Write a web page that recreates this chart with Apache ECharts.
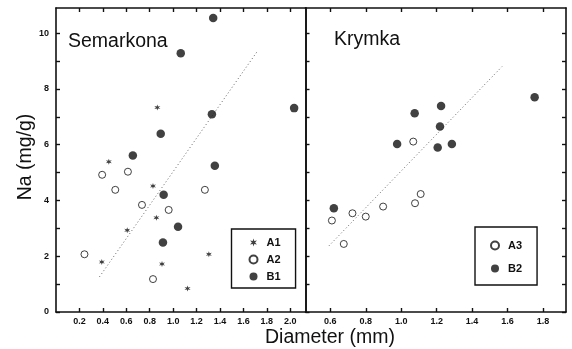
<!DOCTYPE html>
<html>
<head>
<meta charset="utf-8">
<script src="https://cdn.jsdelivr.net/npm/echarts@6/dist/echarts.min.js"></script>
<style>
  html, body { margin: 0; padding: 0; background: #fff; }
  #chart { width: 572px; height: 349px; }
</style>
</head>
<body>
<div id="chart"></div>
<script>
// Semarkona (left panel), [diameter mm, Na mg/g]
const semA1 = [[0.865, 7.33], [0.451, 5.39], [0.828, 4.52], [0.857, 3.38], [0.608, 2.93], [1.305, 2.07], [0.391, 1.79], [0.905, 1.72], [1.123, 0.84]]
const semA2 = [[0.394, 4.92], [0.614, 5.03], [0.506, 4.38], [1.271, 4.38], [0.734, 3.84], [0.962, 3.66], [0.243, 2.07], [0.828, 1.18]]
const semB1 = [[1.342, 10.54], [1.065, 9.28], [2.033, 7.31], [1.331, 7.09], [0.894, 6.39], [0.656, 5.61], [1.356, 5.24], [0.919, 4.2], [1.042, 3.06], [0.913, 2.49]]
const semFit = [[0.371, 1.26], [1.716, 9.33]]

// Krymka (right panel)
const kryA3 = [[1.068, 6.11], [1.11, 4.23], [1.078, 3.9], [0.898, 3.78], [0.8, 3.42], [0.725, 3.54], [0.609, 3.28], [0.676, 2.44]]
const kryB2 = [[1.753, 7.7], [1.225, 7.39], [1.076, 7.13], [1.219, 6.65], [0.977, 6.02], [1.206, 5.9], [1.286, 6.02], [0.62, 3.72]]
const kryFit = [[0.592, 2.37], [1.569, 8.8]]

// tick values
const semXTicks = [0.2, 0.4, 0.6, 0.8, 1.0, 1.2, 1.4, 1.6, 1.8, 2.0]
const kryXTicks = [0.6, 0.8, 1.0, 1.2, 1.4, 1.6, 1.8]
const yTicks = [0, 1, 2, 3, 4, 5, 6, 7, 8, 9, 10]
const yLabels = [0, 2, 4, 6, 8, 10]

const FONT = '"Liberation Sans", Arial, sans-serif'
const INK = '#111'
const STAR = 'path://M0,-10L2,-3.46L8.66,-5L4,0L8.66,5L2,3.46L0,10L-2,3.46L-8.66,5L-4,0L-8.66,-5L-2,-3.46Z'

const lineStyle = { color: INK, width: 1.6 }
const tickStyle = { color: INK, width: 1.4 }
const labelStyle = { color: INK, fontFamily: FONT, fontSize: 9, fontWeight: 'bold' }

function xAxis(gridIndex, position, min, max, ticks, labels) {
  return {
    type: 'value', gridIndex, position, min, max,
    axisLine: { show: true, onZero: false, lineStyle },
    axisTick: { show: true, inside: true, length: 4, lineStyle: tickStyle, customValues: ticks },
    axisLabel: labels
      ? { ...labelStyle, margin: 5, customValues: ticks, formatter: v => v.toFixed(1) }
      : { show: false },
    splitLine: { show: false },
  }
}

function yAxis(gridIndex, position, withTicks, labels) {
  return {
    type: 'value', gridIndex, position, min: 0, max: 10.9,
    axisLine: { show: true, onZero: false, lineStyle },
    axisTick: withTicks
      ? { show: true, inside: true, length: 4, lineStyle: tickStyle, customValues: yTicks }
      : { show: false },
    axisLabel: labels
      ? { ...labelStyle, margin: 7, customValues: yLabels }
      : { show: false },
    splitLine: { show: false },
  }
}

function pointSeries(name, data, axisIndex, kind) {
  const base = { name, type: 'scatter', data, xAxisIndex: axisIndex, yAxisIndex: axisIndex, z: 3 }
  if (kind === 'star') return { ...base, symbol: STAR, symbolSize: 6, itemStyle: { color: INK } }
  if (kind === 'open') return { ...base, symbol: 'circle', symbolSize: 7, itemStyle: { color: '#fff', borderColor: INK, borderWidth: 1 } }
  return { ...base, symbol: 'circle', symbolSize: 8.5, itemStyle: { color: INK } }
}

function fitSeries(data, axisIndex) {
  return {
    type: 'line', data, xAxisIndex: axisIndex, yAxisIndex: axisIndex,
    symbol: 'none', silent: true, z: 2,
    lineStyle: { color: '#666', width: 1, type: [1, 2.5] },
  }
}

const legendBase = {
  orient: 'vertical',
  itemWidth: 8,
  itemHeight: 8,
  borderColor: INK,
  borderWidth: 1.4,
  textStyle: { color: INK, fontFamily: FONT, fontSize: 11, fontWeight: 'bold', padding: [0, 0, 0, 4] },
  selectedMode: false,
}

const chart = echarts.init(document.getElementById('chart'))
chart.setOption({
  animation: false,
  backgroundColor: '#fff',
  grid: [
    { left: 56, top: 8, width: 249.5, height: 304 },
    { left: 305.5, top: 8, width: 260.5, height: 304 },
  ],
  xAxis: [
    xAxis(0, 'bottom', 0, 2.13, semXTicks, true),
    xAxis(0, 'top', 0, 2.13, semXTicks, false),
    xAxis(1, 'bottom', 0.46, 1.93, kryXTicks, true),
    xAxis(1, 'top', 0.46, 1.93, kryXTicks, false),
  ],
  yAxis: [
    yAxis(0, 'left', true, true),
    yAxis(0, 'right', false, false),
    yAxis(1, 'left', true, false),
    yAxis(1, 'right', true, false),
  ],
  legend: [
    { ...legendBase, data: ['A1', 'A2', 'B1'], left: 231.5, top: 229, itemGap: 6, padding: [8, 15, 6, 17] },
    { ...legendBase, data: ['A3', 'B2'], left: 475, top: 227, itemGap: 12, padding: [13, 15, 11, 15] },
  ],
  graphic: [
    { type: 'text', x: 68, y: 42, style: { text: 'Semarkona', fill: INK, font: `19.5px ${FONT}`, verticalAlign: 'middle' } },
    { type: 'text', x: 334, y: 40, style: { text: 'Krymka', fill: INK, font: `19.5px ${FONT}`, verticalAlign: 'middle' } },
    { type: 'text', x: 330, y: 338, style: { text: 'Diameter (mm)', fill: INK, font: `19.5px ${FONT}`, align: 'center', verticalAlign: 'middle' } },
    { type: 'text', x: 26, y: 157, rotation: Math.PI / 2, style: { text: 'Na (mg/g)', fill: INK, font: `19.5px ${FONT}`, align: 'center', verticalAlign: 'middle' } },
  ],
  series: [
    fitSeries(semFit, 0),
    pointSeries('A1', semA1, 0, 'star'),
    pointSeries('A2', semA2, 0, 'open'),
    pointSeries('B1', semB1, 0, 'filled'),
    fitSeries(kryFit, 2),
    pointSeries('A3', kryA3, 2, 'open'),
    pointSeries('B2', kryB2, 2, 'filled'),
  ],
})
</script>
</body>
</html>
